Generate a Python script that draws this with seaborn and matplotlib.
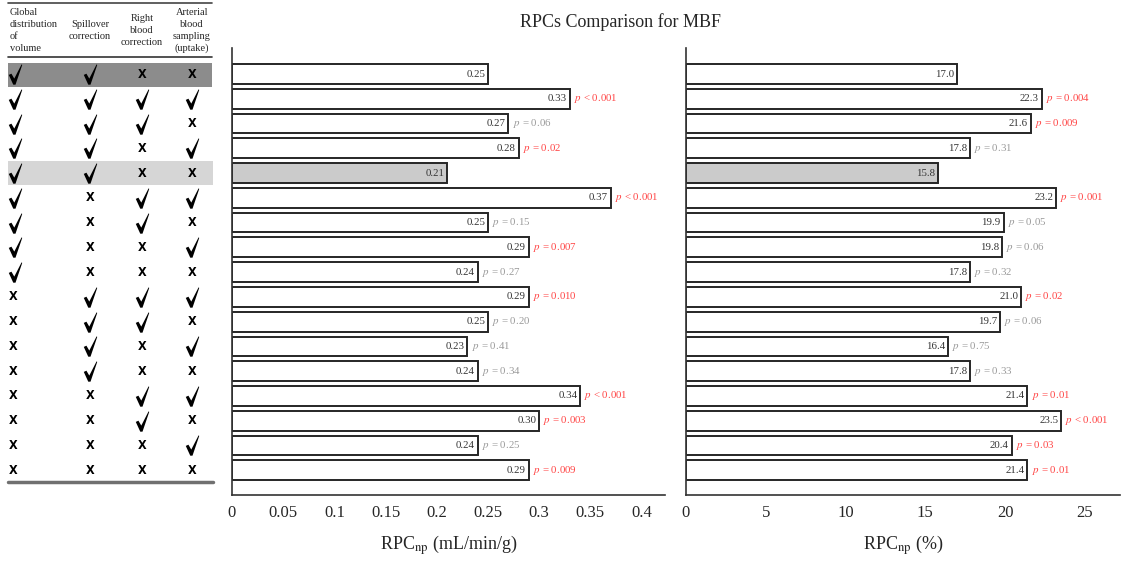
import matplotlib
matplotlib.use("Agg")
import matplotlib.pyplot as plt
from matplotlib.path import Path
import seaborn as sns
import pandas as pd

# rows of the comparison (top to bottom)
rows = [str(i) for i in range(1, 18)]

# correction table: 1 = applied (check), 0 = not applied (X)
glob_vol = [1, 1, 1, 1, 1, 1, 1, 1, 1, 0, 0, 0, 0, 0, 0, 0, 0]
spillover = [1, 1, 1, 1, 1, 0, 0, 0, 0, 1, 1, 1, 1, 0, 0, 0, 0]
right_blood = [0, 1, 1, 0, 0, 1, 1, 0, 0, 1, 1, 0, 0, 1, 1, 0, 0]
arterial = [0, 1, 0, 1, 0, 1, 0, 1, 0, 1, 0, 1, 0, 1, 0, 1, 0]

col_headers = ["Global\ndistribution\nof\nvolume", "Spillover\ncorrection",
               "Right\nblood\ncorrection", "Arterial\nblood\nsampling\n(uptake)"]

rpc_abs = [0.25, 0.33, 0.27, 0.28, 0.21, 0.37, 0.25, 0.29, 0.24, 0.29, 0.25,
           0.23, 0.24, 0.34, 0.30, 0.24, 0.29]
p_abs = [None, "< 0.001", "= 0.06", "= 0.02", None, "< 0.001", "= 0.15", "= 0.007",
         "= 0.27", "= 0.010", "= 0.20", "= 0.41", "= 0.34", "< 0.001", "= 0.003",
         "= 0.25", "= 0.009"]
sig_abs = [0, 1, 0, 1, 0, 1, 0, 1, 0, 1, 0, 0, 0, 1, 1, 0, 1]

rpc_pct = [17.0, 22.3, 21.6, 17.8, 15.8, 23.2, 19.9, 19.8, 17.8, 21.0, 19.7,
           16.4, 17.8, 21.4, 23.5, 20.4, 21.4]
p_pct = [None, "= 0.004", "= 0.009", "= 0.31", None, "= 0.001", "= 0.05", "= 0.06",
         "= 0.32", "= 0.02", "= 0.06", "= 0.75", "= 0.33", "= 0.01", "< 0.001",
         "= 0.03", "= 0.01"]
sig_pct = [0, 1, 1, 0, 0, 1, 0, 0, 0, 1, 0, 0, 0, 1, 1, 1, 1]

ticks_abs = [0, 0.05, 0.1, 0.15, 0.2, 0.25, 0.3, 0.35, 0.4]
ticks_pct = [0, 5, 10, 15, 20, 25]

sns.set_style("ticks")
plt.rcParams['font.family'] = ['Liberation Serif', 'DejaVu Sans']
plt.rcParams['mathtext.fontset'] = 'stix'

W, H = 1122, 565
fig = plt.figure(figsize=(W / 100, H / 100), dpi=100)

bar_colors = ['white'] * 17
bar_colors[4] = '#cbcbcb'
YLIM = (17.0, -1.05)


def px(x, y):
    return x / W, 1 - y / H


def draw_bars(ax, vals, pvals, sig, fmt, xmax, ticks, xlabel):
    df = pd.DataFrame({'row': rows, 'val': vals})
    sns.barplot(data=df, x='val', y='row', hue='row', palette=bar_colors,
                orient='h', width=0.8, saturation=1, edgecolor='#262626',
                linewidth=1.4, legend=False, ax=ax)
    for i, (v, p, s) in enumerate(zip(vals, pvals, sig)):
        ax.annotate(fmt.format(v), xy=(v, i), xytext=(-2, 0), textcoords='offset points',
                    ha='right', va='center', fontsize=7.8, color='#333333')
        if p is not None:
            ax.annotate('$p$ ' + p, xy=(v, i), xytext=(3, 0), textcoords='offset points',
                        ha='left', va='center', fontsize=7.8,
                        color='#ff4545' if s else '#9a9a9a')
    ax.set_xlim(0, xmax)
    ax.set_ylim(*YLIM)
    ax.set_xticks(ticks)
    ax.set_xticklabels([f'{t:g}' for t in ticks])
    ax.tick_params(axis='y', direction='in', length=3, width=1, labelleft=False)
    ax.tick_params(axis='x', length=0, labelsize=12, pad=7)
    for sp in ['top', 'right']:
        ax.spines[sp].set_visible(False)
    for sp in ['left', 'bottom']:
        ax.spines[sp].set_color('#333333')
        ax.spines[sp].set_linewidth(1.2)
    ax.set_ylabel('')
    ax.set_xlabel(xlabel, fontsize=13, labelpad=9)


ax1 = fig.add_axes([232 / W, 70 / H, 433 / W, 447 / H])
draw_bars(ax1, rpc_abs, p_abs, sig_abs, '{:.2f}', 0.423, ticks_abs,
          r'RPC$_{\mathrm{np}}$ (mL/min/g)')
ax2 = fig.add_axes([686 / W, 70 / H, 434 / W, 447 / H])
draw_bars(ax2, rpc_pct, p_pct, sig_pct, '{:.1f}', 27.2, ticks_pct,
          r'RPC$_{\mathrm{np}}$ (%)')

fig.text(*px(620, 22), 'RPCs Comparison for MBF', ha='center', va='center', fontsize=13)

# table of corrections
tax = fig.add_axes([0, 70 / H, 215 / W, 447 / H])
tax.set_xlim(0, 215)
tax.set_ylim(*YLIM)
tax.axis('off')
tax.axhspan(-0.45, 0.53, xmin=8 / 215, xmax=212 / 215, color='#8c8c8c', lw=0)
tax.axhspan(3.5, 4.5, xmin=8 / 215, xmax=213 / 215, color='#d6d6d6', lw=0)
tax.plot([8, 212], [-2.87, -2.87], color='#444444', lw=1.2, clip_on=False)
tax.plot([8, 212], [-0.69, -0.69], color='#333333', lw=1.2, clip_on=False)
tax.plot([8, 213], [16.46, 16.46], color='#707070', lw=2.5, clip_on=False)

# check mark shape: thick short stroke, thin long stroke
check = Path([(-0.33, -0.02), (-0.2, 0.04), (-0.06, -0.2), (0.3, 0.5),
              (0.33, 0.47), (0.0, -0.5), (-0.11, -0.5), (-0.33, -0.02)],
             [Path.MOVETO] + [Path.LINETO] * 6 + [Path.CLOSEPOLY])

col_x = [15, 90, 142, 192]
for x, col in zip(col_x, [glob_vol, spillover, right_blood, arterial]):
    yes = [i for i, f in enumerate(col) if f]
    no = [i for i, f in enumerate(col) if not f]
    tax.scatter([x] * len(yes), yes, marker=check, s=215, color='black', lw=0)
    for i in no:
        tax.text(x - 2 if x == 15 else x, i, 'X', ha='center', va='center', fontsize=9,
                 family='DejaVu Sans', fontweight='bold', fontstretch='condensed',
                 color='black')

fig.text(*px(10, 30.5), col_headers[0], ha='left', va='center', fontsize=7.5, linespacing=1.4)
for x, lab in zip(col_x[1:], col_headers[1:]):
    fig.text(*px(x, 30.5), lab, ha='center', va='center', fontsize=7.5, linespacing=1.4)

fig.savefig('out.png', dpi=100)
